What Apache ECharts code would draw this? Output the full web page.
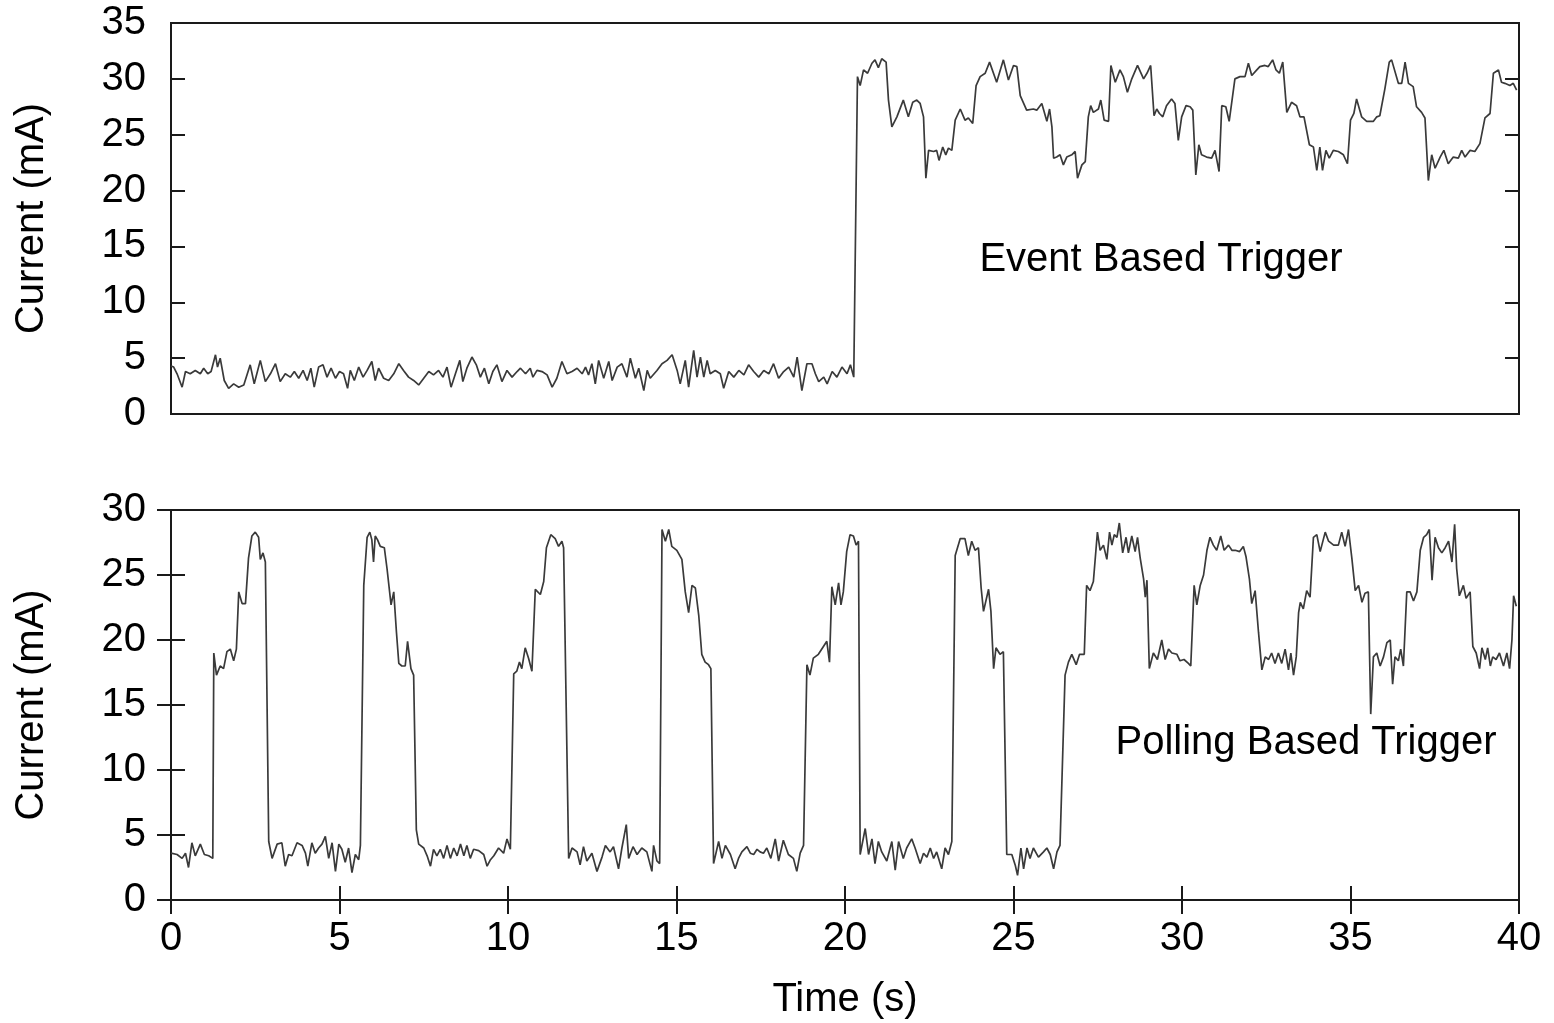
<!DOCTYPE html>
<html>
<head>
<meta charset="utf-8">
<title>Event vs polling trigger current</title>
<script src="https://cdn.jsdelivr.net/npm/echarts@6/dist/echarts.min.js"></script>
<style>
  html, body { margin: 0; padding: 0; background: #fff; }
  #chart { width: 1554px; height: 1023px; }
</style>
</head>
<body>
<div id="chart"></div>
<script>
// [time (s), current (mA)]
const eventIdle = [
  [0,4.3],[0.08,4.2],[0.18,3.6],[0.33,2.4],[0.43,3.8],[0.57,3.6],[0.72,3.9],[0.87,3.6],[0.97,4.1],[1.09,3.6],
  [1.19,3.8],[1.32,5.3],[1.38,4.2],[1.46,5.0],[1.58,3.0],[1.71,2.3],[1.86,2.7],[2.01,2.4],[2.16,2.6],[2.35,4.4],
  [2.47,2.7],[2.65,4.8],[2.8,2.9],[2.95,3.6],[3.1,4.5],[3.24,2.9],[3.39,3.6],[3.54,3.3],[3.66,3.8],[3.79,3.2],
  [3.92,3.9],[4.04,3.0],[4.15,4.1],[4.25,2.4],[4.38,4.2],[4.51,4.4],[4.63,3.3],[4.75,4.1],[4.88,3.2],[5.0,3.8],
  [5.12,3.6],[5.24,2.3],[5.32,3.9],[5.44,3.0],[5.57,4.2],[5.7,3.3],[5.82,3.9],[5.96,4.7],[6.06,3.0],[6.16,4.1],
  [6.31,3.2],[6.46,3.0],[6.61,3.6],[6.76,4.5],[6.9,3.9],[7.05,3.3],[7.2,3.0],[7.35,2.6],[7.5,3.2],[7.65,3.8],
  [7.79,3.5],[7.94,3.9],[8.07,3.3],[8.19,4.2],[8.31,2.4],[8.44,3.6],[8.57,4.8],[8.66,2.9],[8.78,4.1],[8.93,5.1],
  [9.06,4.4],[9.18,3.3],[9.3,4.1],[9.43,2.7],[9.55,3.8],[9.67,4.4],[9.82,2.9],[9.97,3.9],[10.12,3.3],[10.27,3.8],
  [10.37,4.1],[10.52,3.6],[10.66,4.1],[10.74,3.3],[10.86,3.9],[11.01,3.8],[11.16,3.5],[11.31,2.4],[11.45,3.2],[11.6,4.7],
  [11.75,3.6],[11.9,3.8],[12.05,4.1],[12.2,3.6],[12.3,4.2],[12.39,3.5],[12.49,4.5],[12.59,2.7],[12.69,4.8],[12.84,3.2],
  [12.99,4.7],[13.09,3.0],[13.24,4.2],[13.38,4.5],[13.53,3.3],[13.63,5.0],[13.78,3.2],[13.88,4.1],[14.03,2.1],[14.13,3.9],
  [14.22,3.2],[14.42,3.9],[14.57,4.5],[14.72,4.8],[14.87,5.3],[15.02,3.9],[15.11,2.7],[15.26,4.8],[15.36,2.4],[15.51,5.7],
  [15.61,3.3],[15.71,5.1],[15.81,3.3],[15.91,4.8],[16.0,3.6],[16.15,3.9],[16.3,3.6],[16.4,2.3],[16.55,3.8],[16.7,3.3],
  [16.85,3.9],[17.0,3.5],[17.14,4.4],[17.29,3.8],[17.44,3.3],[17.59,3.9],[17.74,3.6],[17.88,4.5],[18.03,3.2],[18.18,3.8],
  [18.33,4.2],[18.48,3.3],[18.58,5.1],[18.72,2.1],[18.87,4.5],[19.02,4.5],[19.12,3.6],[19.22,2.9],[19.37,3.3],[19.47,2.7],
  [19.62,3.8],[19.76,3.3],[19.91,4.2],[20.06,3.6],[20.16,4.4],[20.26,3.3]
];

const eventActive = [
  [20.37,30.2],[20.45,29.4],[20.55,30.8],[20.67,30.5],[20.8,31.4],[20.89,31.7],[20.99,31.0],[21.09,31.8],[21.22,31.5],[21.29,28.1],
  [21.39,25.7],[21.54,26.6],[21.73,28.1],[21.88,26.6],[22.01,27.9],[22.13,28.1],[22.23,27.8],[22.33,26.6],[22.4,21.1],[22.48,23.6],
  [22.63,23.5],[22.72,23.6],[22.79,22.7],[22.9,23.9],[22.99,23.2],[23.07,23.8],[23.17,23.6],[23.27,26.3],[23.42,27.3],[23.56,26.3],
  [23.66,26.5],[23.79,26.0],[23.89,29.4],[24.01,30.2],[24.16,30.5],[24.29,31.5],[24.5,29.7],[24.7,31.7],[24.85,29.9],[25.0,31.2],
  [25.1,31.1],[25.2,28.5],[25.39,27.2],[25.59,27.3],[25.69,27.2],[25.84,27.8],[25.99,26.2],[26.07,27.3],[26.14,25.7],[26.19,22.9],
  [26.28,23.0],[26.38,23.2],[26.48,22.3],[26.58,23.0],[26.73,23.2],[26.83,23.5],[26.9,21.1],[27.03,22.3],[27.13,22.6],[27.22,26.6],
  [27.29,27.6],[27.37,27.0],[27.52,27.3],[27.59,28.1],[27.69,26.3],[27.82,26.2],[27.89,31.2],[28.02,29.7],[28.16,30.8],[28.26,30.2],
  [28.38,28.8],[28.51,30.0],[28.68,31.2],[28.86,30.0],[28.96,30.5],[29.07,31.2],[29.17,26.7],[29.25,27.3],[29.33,26.9],[29.43,26.6],
  [29.54,27.6],[29.69,28.2],[29.79,27.8],[29.89,24.5],[29.99,26.6],[30.12,27.6],[30.24,27.5],[30.32,27.2],[30.41,21.4],[30.5,24.1],
  [30.58,23.2],[30.73,23.0],[30.88,22.9],[30.98,23.6],[31.1,21.7],[31.18,27.6],[31.3,27.5],[31.4,26.2],[31.57,30.0],[31.72,30.2],
  [31.87,30.2],[31.97,31.4],[32.07,30.3],[32.22,30.8],[32.31,31.1],[32.46,31.2],[32.56,31.1],[32.69,31.7],[32.79,30.8],[32.89,30.5],
  [32.99,31.5],[33.11,27.0],[33.25,27.9],[33.4,27.6],[33.5,26.6],[33.62,26.6],[33.78,24.1],[33.9,23.9],[34.0,21.8],[34.09,23.9],
  [34.17,21.8],[34.27,23.6],[34.37,22.9],[34.49,23.6],[34.64,23.5],[34.79,23.2],[34.91,22.4],[35.0,26.3],[35.1,26.9],[35.18,28.2],
  [35.33,26.6],[35.48,26.2],[35.68,26.2],[35.78,26.6],[35.87,26.7],[36.02,29.1],[36.15,31.5],[36.22,31.7],[36.42,29.6],[36.52,29.6],
  [36.62,31.5],[36.72,29.6],[36.86,29.3],[36.96,27.5],[37.11,27.0],[37.21,26.5],[37.31,20.9],[37.41,23.2],[37.51,22.0],[37.66,23.0],
  [37.77,23.6],[37.9,22.4],[38.05,23.0],[38.2,22.9],[38.3,23.6],[38.4,23.0],[38.55,23.6],[38.69,23.5],[38.84,24.2],[38.99,26.5],
  [39.14,26.9],[39.24,30.5],[39.39,30.8],[39.48,29.7],[39.58,29.6],[39.73,29.4],[39.83,29.6],[39.93,29.0]
];

const pollingTrace = [
  [0,3.6],[0.18,3.5],[0.33,3.2],[0.43,3.6],[0.52,2.5],[0.62,4.4],[0.72,3.4],[0.87,4.3],[0.99,3.5],[1.12,3.4],
  [1.24,3.2],[1.27,19.0],[1.35,17.3],[1.46,18.0],[1.56,17.8],[1.66,19.1],[1.76,19.3],[1.86,18.4],[1.94,19.3],[2.01,23.7],
  [2.11,22.8],[2.21,22.8],[2.3,26.3],[2.4,28.0],[2.5,28.3],[2.6,27.9],[2.65,26.2],[2.73,26.7],[2.8,26.0],[2.9,4.5],
  [3.0,3.2],[3.15,4.3],[3.29,4.4],[3.39,2.6],[3.49,3.5],[3.59,3.4],[3.74,4.4],[3.89,4.2],[3.99,3.6],[4.06,2.6],
  [4.18,4.4],[4.28,3.6],[4.38,4.0],[4.48,4.3],[4.58,4.9],[4.68,3.2],[4.78,4.4],[4.88,2.2],[4.98,4.3],[5.07,3.9],
  [5.17,2.9],[5.27,4.0],[5.37,2.1],[5.47,3.5],[5.57,3.1],[5.62,4.2],[5.72,24.2],[5.82,27.9],[5.9,28.3],[5.96,27.7],
  [6.01,26.0],[6.06,28.0],[6.13,27.7],[6.21,27.2],[6.33,27.1],[6.41,25.5],[6.53,22.7],[6.61,23.7],[6.69,20.6],[6.76,18.2],
  [6.85,18.0],[6.95,18.0],[7.02,19.9],[7.12,17.8],[7.2,17.3],[7.28,5.4],[7.35,4.3],[7.5,4.0],[7.6,3.4],[7.7,2.6],
  [7.79,3.9],[7.89,3.4],[7.99,3.9],[8.09,3.2],[8.19,4.2],[8.29,3.2],[8.39,4.0],[8.49,3.4],[8.59,4.3],[8.69,3.4],
  [8.78,4.2],[8.88,3.2],[8.98,3.9],[9.13,3.8],[9.28,3.5],[9.38,2.6],[9.48,3.1],[9.58,3.4],[9.72,4.0],[9.87,3.6],
  [9.97,4.7],[10.07,3.9],[10.17,17.4],[10.26,17.6],[10.34,18.3],[10.41,17.8],[10.51,19.4],[10.61,18.6],[10.71,17.6],[10.81,23.9],
  [10.96,23.5],[11.06,24.5],[11.14,27.1],[11.27,28.1],[11.4,27.8],[11.5,27.2],[11.6,27.6],[11.65,27.1],[11.8,3.2],[11.9,4.0],
  [12.05,3.7],[12.14,2.7],[12.24,4.1],[12.34,3.0],[12.49,3.6],[12.64,2.2],[12.79,3.3],[12.89,4.2],[13.03,3.7],[13.13,4.1],
  [13.28,2.4],[13.38,4.0],[13.51,5.8],[13.58,3.2],[13.71,4.1],[13.83,3.5],[13.97,4.0],[14.12,3.7],[14.27,2.2],[14.32,4.2],
  [14.42,3.0],[14.5,2.8],[14.57,28.5],[14.67,27.6],[14.77,28.5],[14.86,27.2],[15.01,26.9],[15.16,26.2],[15.26,23.7],[15.36,22.1],
  [15.46,24.2],[15.56,24.0],[15.66,21.9],[15.75,18.9],[15.85,18.3],[15.95,18.1],[16.02,17.8],[16.1,2.8],[16.25,4.5],[16.35,3.2],
  [16.45,4.2],[16.6,3.5],[16.74,2.4],[16.84,3.2],[16.94,3.7],[17.09,4.1],[17.19,3.6],[17.29,3.5],[17.39,3.9],[17.48,3.7],
  [17.58,3.6],[17.68,4.0],[17.8,3.2],[17.93,4.7],[18.03,3.0],[18.17,4.6],[18.32,3.5],[18.47,3.2],[18.57,2.2],[18.67,3.6],
  [18.77,4.2],[18.87,18.1],[18.96,17.3],[19.06,18.6],[19.21,18.9],[19.36,19.5],[19.46,19.9],[19.54,18.3],[19.61,24.1],[19.71,22.7],
  [19.81,24.4],[19.88,22.7],[19.95,23.7],[20.05,26.8],[20.15,28.1],[20.25,28.0],[20.33,27.3],[20.4,27.6],[20.45,3.5],[20.6,5.5],
  [20.7,3.5],[20.8,4.7],[20.89,2.8],[20.99,4.5],[21.09,3.7],[21.24,3.0],[21.39,4.5],[21.49,2.3],[21.59,4.5],[21.73,3.2],
  [21.83,4.0],[21.98,4.7],[22.08,4.0],[22.23,2.8],[22.33,3.6],[22.43,3.3],[22.53,4.0],[22.63,3.2],[22.72,3.7],[22.87,2.4],
  [22.97,4.0],[23.07,3.5],[23.17,4.5],[23.27,26.5],[23.42,27.8],[23.56,27.8],[23.66,26.5],[23.76,27.6],[23.86,26.9],[23.96,27.1],
  [24.04,24.0],[24.11,22.2],[24.26,23.9],[24.33,22.2],[24.41,17.8],[24.48,19.4],[24.6,18.9],[24.7,19.1],[24.8,3.5],[24.95,3.5],
  [25.05,2.7],[25.12,1.9],[25.22,4.0],[25.3,2.4],[25.4,4.0],[25.49,3.2],[25.59,4.0],[25.74,3.3],[25.89,3.7],[25.99,4.0],
  [26.09,3.5],[26.19,2.4],[26.29,3.7],[26.38,4.2],[26.53,17.3],[26.63,18.3],[26.73,18.9],[26.86,18.1],[26.96,18.9],[27.1,18.9],
  [27.17,24.2],[27.27,23.8],[27.37,24.5],[27.49,28.3],[27.57,26.9],[27.67,27.3],[27.77,26.2],[27.85,28.3],[27.92,27.3],[27.99,28.1],
  [28.07,27.9],[28.14,29.0],[28.24,26.7],[28.34,27.9],[28.41,26.7],[28.51,28.0],[28.61,26.8],[28.68,27.9],[28.76,26.3],[28.86,24.7],
  [28.91,23.3],[28.96,24.6],[29.03,17.8],[29.15,19.0],[29.27,18.5],[29.4,20.0],[29.5,18.5],[29.6,19.3],[29.7,19.0],[29.85,18.9],
  [29.94,18.4],[30.06,18.5],[30.19,18.2],[30.26,18.0],[30.36,24.2],[30.44,22.7],[30.54,24.2],[30.64,25.0],[30.74,26.9],[30.83,27.9],
  [30.93,27.3],[31.03,26.9],[31.15,28.0],[31.25,26.9],[31.38,27.3],[31.48,26.9],[31.58,26.9],[31.71,26.8],[31.82,27.2],[31.9,26.4],
  [32.0,24.7],[32.07,22.8],[32.17,23.8],[32.27,20.6],[32.37,17.7],[32.47,18.7],[32.57,18.5],[32.66,19.0],[32.76,18.2],[32.86,19.0],
  [32.96,18.2],[33.06,19.3],[33.16,17.7],[33.23,19.0],[33.31,17.3],[33.39,18.7],[33.46,22.1],[33.51,22.9],[33.6,22.4],[33.7,23.8],
  [33.8,23.3],[33.9,27.9],[34.0,28.1],[34.1,26.8],[34.25,28.3],[34.35,27.6],[34.5,27.3],[34.64,27.3],[34.74,28.3],[34.84,27.2],
  [34.94,28.5],[35.04,26.3],[35.14,23.8],[35.24,24.2],[35.34,22.9],[35.43,23.6],[35.53,23.7],[35.6,14.3],[35.68,18.7],[35.78,19.0],
  [35.88,18.0],[35.98,18.7],[36.08,19.8],[36.18,20.0],[36.25,16.6],[36.32,18.7],[36.42,18.4],[36.49,19.3],[36.57,18.0],[36.67,23.7],
  [36.77,23.7],[36.87,23.0],[36.97,23.7],[37.07,26.9],[37.17,27.9],[37.26,28.1],[37.34,28.5],[37.42,24.6],[37.51,27.9],[37.61,27.1],
  [37.71,26.7],[37.81,27.1],[37.91,27.6],[38.01,26.0],[38.09,28.9],[38.15,25.5],[38.23,23.4],[38.35,24.2],[38.43,23.2],[38.55,23.7],
  [38.63,19.5],[38.73,19.0],[38.83,17.8],[38.9,19.4],[39.0,18.5],[39.07,19.4],[39.15,18.0],[39.22,18.7],[39.32,18.5],[39.42,19.0],
  [39.54,18.0],[39.64,19.0],[39.72,17.8],[39.79,20.0],[39.84,23.4],[39.92,22.6]
];

const timeTicks = [0, 40, 5];       // min, max, step (s)
const eventRange = [0, 35, 5];      // mA
const pollingRange = [0, 30, 5];    // mA

const chart = echarts.init(document.getElementById('chart'));

const font = "'Liberation Sans', Arial, Helvetica, sans-serif";
const fontSize = 40;
const ink = '#000';
const frame = '#1a1a1a';
const traceColor = '#3a3a3a';

const tick = { show: true, inside: true, length: 14, lineStyle: { color: frame, width: 2 } };
const noLine = { show: false };

function xAxisFor(grid, position, withLabels) {
  return {
    type: 'value', gridIndex: grid, position: position,
    min: timeTicks[0], max: timeTicks[1], interval: timeTicks[2],
    axisLine: noLine,
    axisTick: withLabels === null ? { show: false } : tick,
    splitLine: { show: false },
    axisLabel: withLabels ? { show: true, margin: 19, color: ink, fontSize: fontSize, fontFamily: font } : { show: false },
    name: withLabels ? 'Time (s)' : '',
    nameLocation: 'middle',
    nameGap: 80,
    nameTextStyle: { color: ink, fontSize: fontSize, fontFamily: font }
  };
}

function yAxisFor(grid, range, position) {
  const left = position === 'left';
  return {
    type: 'value', gridIndex: grid, position: position,
    min: range[0], max: range[1], interval: range[2],
    axisLine: noLine,
    axisTick: tick,
    splitLine: { show: false },
    axisLabel: left ? { show: true, margin: 25, color: ink, fontSize: fontSize, fontFamily: font } : { show: false },
    name: left ? 'Current (mA)' : '',
    nameLocation: 'middle',
    nameGap: 119,
    nameTextStyle: { color: ink, fontSize: fontSize, fontFamily: font }
  };
}

const gridBox = { show: true, borderColor: frame, borderWidth: 2, backgroundColor: 'transparent' };

const option = {
  animation: false,
  backgroundColor: '#fff',
  grid: [
    Object.assign({ left: 171, top: 23, width: 1348, height: 391 }, gridBox),
    Object.assign({ left: 171, top: 510, width: 1348, height: 390 }, gridBox)
  ],
  xAxis: [
    xAxisFor(0, 'bottom', null),
    xAxisFor(1, 'bottom', true),
    xAxisFor(1, 'top', false)
  ],
  yAxis: [
    yAxisFor(0, eventRange, 'left'),
    yAxisFor(0, eventRange, 'right'),
    yAxisFor(1, pollingRange, 'left'),
    yAxisFor(1, pollingRange, 'right')
  ],
  series: [
    {
      name: 'Event Based Trigger',
      type: 'line', xAxisIndex: 0, yAxisIndex: 0,
      showSymbol: false, silent: true,
      lineStyle: { color: traceColor, width: 1.7 },
      data: eventIdle.concat(eventActive)
    },
    {
      name: 'Polling Based Trigger',
      type: 'line', xAxisIndex: 1, yAxisIndex: 2,
      showSymbol: false, silent: true,
      lineStyle: { color: traceColor, width: 1.7 },
      data: pollingTrace
    }
  ],
  graphic: [
    {
      type: 'text', x: 1161, y: 260,
      style: { text: 'Event Based Trigger', fill: ink, font: fontSize + 'px ' + font, align: 'center', verticalAlign: 'middle' }
    },
    {
      type: 'text', x: 1306, y: 743,
      style: { text: 'Polling Based Trigger', fill: ink, font: fontSize + 'px ' + font, align: 'center', verticalAlign: 'middle' }
    }
  ]
};

chart.setOption(option);

window.addEventListener('resize', () => {
  chart && chart.resize();
});
</script>
</body>
</html>
